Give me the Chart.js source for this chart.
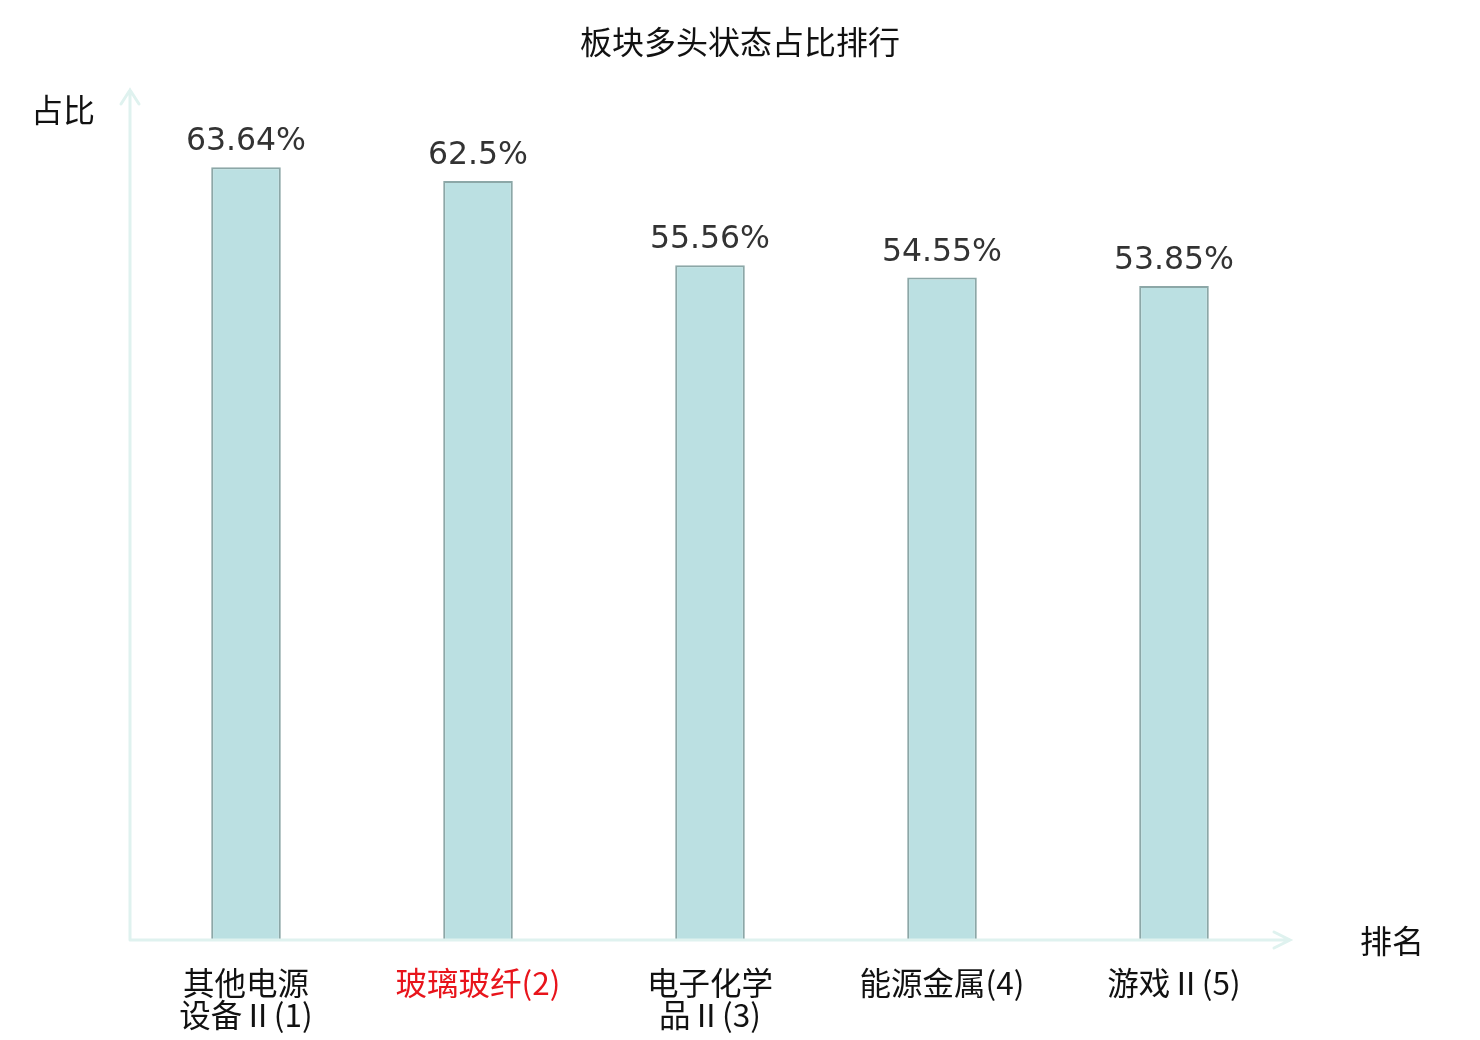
<!DOCTYPE html>
<html>
<head>
<meta charset="utf-8">
<script src="https://cdn.jsdelivr.net/npm/chart.js@4"></script>
<style>
  html, body { margin: 0; padding: 0; background: #fff; }
  #wrap { width: 1480px; height: 1040px; }
</style>
</head>
<body>
<div id="wrap"><canvas id="rankChart" width="1480" height="1040"></canvas></div>
<script>
const chartTitle = '板块多头状态占比排行';
const categories = [
    ['其他电源', '设备Ⅱ(1)'],
    ['玻璃玻纤(2)'],
    ['电子化学', '品Ⅱ(3)'],
    ['能源金属(4)'],
    ['游戏Ⅱ(5)']
];
const values = [63.64, 62.5, 55.56, 54.55, 53.85];
const valueLabels = ['63.64%', '62.5%', '55.56%', '54.55%', '53.85%'];
const highlightIndex = 1;

const cjkFont = '"Noto Sans CJK SC", "Noto Sans", sans-serif';
const numFont = '"DejaVu Sans", sans-serif';

const decorPlugin = {
    id: 'decor',
    afterDatasetsDraw(chart) {
        const ctx = chart.ctx;
        const area = chart.chartArea;
        const xScale = chart.scales.x;
        const meta = chart.getDatasetMeta(0);

        ctx.save();

        // axes with arrows
        ctx.strokeStyle = '#dff2ef';
        ctx.lineWidth = 3;
        ctx.lineCap = 'round';
        ctx.beginPath();
        ctx.moveTo(area.left, area.bottom);
        ctx.lineTo(area.left, area.top);
        ctx.moveTo(area.left - 9, area.top + 14);
        ctx.lineTo(area.left, area.top);
        ctx.lineTo(area.left + 9, area.top + 14);
        ctx.moveTo(area.left, area.bottom);
        ctx.lineTo(area.right, area.bottom);
        ctx.moveTo(area.right - 16, area.bottom - 8);
        ctx.lineTo(area.right, area.bottom);
        ctx.lineTo(area.right - 16, area.bottom + 8);
        ctx.stroke();

        // title
        ctx.fillStyle = '#111';
        ctx.textAlign = 'center';
        ctx.textBaseline = 'middle';
        ctx.font = '32px ' + cjkFont;
        ctx.fillText(chartTitle, 740, 42);

        // axis names
        ctx.font = '32px ' + cjkFont;
        ctx.fillText('占比', 63, 110);
        ctx.fillText('排名', 1392, 941);

        // value labels
        ctx.fillStyle = '#333';
        ctx.font = '31.5px ' + numFont;
        ctx.textBaseline = 'alphabetic';
        meta.data.forEach((bar, i) => {
            ctx.fillText(valueLabels[i], bar.x, bar.y - 17);
        });

        // category labels
        ctx.font = '31.5px ' + cjkFont;
        ctx.textBaseline = 'middle';
        categories.forEach((lines, i) => {
            const x = xScale.getPixelForValue(i);
            ctx.fillStyle = i === highlightIndex ? '#e8141b' : '#111';
            lines.forEach((line, j) => {
                ctx.fillText(line, x, 983 + j * 32);
            });
        });

        ctx.restore();
    }
};

new Chart(document.getElementById('rankChart').getContext('2d'), {
    type: 'bar',
    data: {
        labels: categories.map(c => c.join('')),
        datasets: [{
            data: values,
            backgroundColor: '#bbe0e2',
            borderColor: '#8ca7a7',
            borderWidth: 2,
            barPercentage: 0.3,
            categoryPercentage: 1
        }]
    },
    options: {
        responsive: false,
        animation: false,
        devicePixelRatio: 1,
        layout: { padding: { left: 130, right: 190, top: 90, bottom: 100 } },
        scales: {
            x: { display: false },
            y: { display: false, min: 0, max: 70 }
        },
        plugins: {
            legend: { display: false },
            tooltip: { enabled: false }
        }
    },
    plugins: [decorPlugin]
});
</script>
</body>
</html>
